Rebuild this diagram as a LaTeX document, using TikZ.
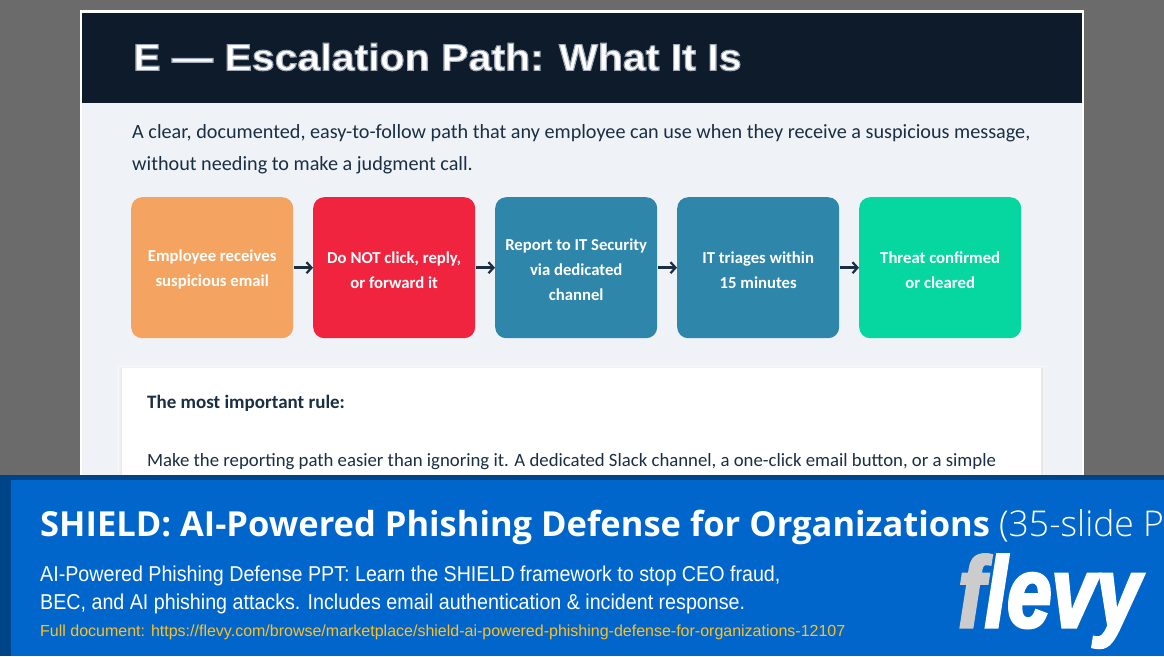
\documentclass[tikz,border=0pt]{standalone}
\usepackage{fontspec}
\setmainfont{Carlito}
\newfontfamily\arialf{Liberation Sans}
\newfontfamily\arialn[FakeStretch=0.915]{Liberation Sans}
\newfontfamily\openf{Open Sans}
\newfontfamily\openlight{Open Sans Light}
\newfontfamily\titlef[FakeStretch=1.095,FakeBold=3]{Liberation Sans}
\newfontfamily\logof[FakeStretch=0.8,FakeBold=3]{Liberation Sans}
\newcommand{\liftline}{\rule{0pt}{16pt}}
\usetikzlibrary{arrows.meta}
\definecolor{bggray}{HTML}{6B6B6B}
\definecolor{slidebg}{HTML}{EFF3F8}
\definecolor{navy}{HTML}{0D1B2A}
\definecolor{inkblue}{HTML}{1A2E44}
\definecolor{orangebox}{HTML}{F4A460}
\definecolor{redbox}{HTML}{F1243F}
\definecolor{bluebox}{HTML}{2E86AB}
\definecolor{greenbox}{HTML}{06D6A0}
\definecolor{bannerdark}{HTML}{004488}
\definecolor{bannermain}{HTML}{0066CC}
\definecolor{linkgold}{HTML}{FFC020}
\definecolor{flevygray}{HTML}{CCCCCC}
\tikzset{
  x=1pt,y=-1pt,
  flowbox/.style={rounded corners=11pt,minimum width=162pt,minimum height=141pt,inner sep=0pt,anchor=north west,text=white,align=center,font=\fontsize{16.7}{25}\selectfont\bfseries},
  flowarrow/.style={draw=inkblue,line width=2.8pt,-{Straight Barb[length=5pt,width=11pt,line width=2.2pt]},shorten <=1pt},
  bodytext/.style={anchor=west,inner sep=0pt,text=inkblue,font=\fontsize{20.2}{20}\selectfont},
  cardtext/.style={anchor=west,inner sep=0pt,text=inkblue,font=\fontsize{18.75}{19}\selectfont},
  bannertext/.style={anchor=west,inner sep=0pt,text=white,font=\arialn\fontsize{21.5}{22}\selectfont},
}
\begin{document}
\begin{tikzpicture}
\useasboundingbox (0,0) rectangle (1164,656);
\clip (0,0) rectangle (1164,656);
\fill[bggray] (0,0) rectangle (1164,656);
\fill[white] (80,10) rectangle (1084,480);
\fill[slidebg] (82,13) rectangle (1082,480);
\fill[navy] (82,13) rectangle (1082,103);
\node[anchor=west,inner sep=0pt,text=white,font=\titlef\bfseries\fontsize{37.5}{38}\selectfont] (title) at (133,57)
  {\special{pdf:bcolor [1 1 1] [0.62 0.66 0.72]}E — Escalation Path: What It Is\special{pdf:ecolor}};
\node[bodytext] (intro1) at (132,133) {A clear, documented, easy-to-follow path that any employee can use when they receive a suspicious message,};
\node[bodytext] (intro2) at (132,165) {without needing to make a judgment call.};
\node[flowbox,fill=orangebox] (s1) at (131,197) {\liftline Employee receives\\suspicious email};
\node[flowbox,fill=redbox] (s2) at (313,197) {\liftline Do NOT click, reply,\\or forward it};
\node[flowbox,fill=bluebox] (s3) at (495,197) {\liftline Report to IT Security\\via dedicated\\channel};
\node[flowbox,fill=bluebox] (s4) at (677,197) {\liftline IT triages within\\15 minutes};
\node[flowbox,fill=greenbox] (s5) at (859,197) {\liftline Threat confirmed\\or cleared};
\draw[flowarrow] (s1) -- (s2);
\draw[flowarrow] (s2) -- (s3);
\draw[flowarrow] (s3) -- (s4);
\draw[flowarrow] (s4) -- (s5);
\fill[black!3] (118,366) rectangle (1045,480);
\fill[black!6] (119,367) rectangle (1044,480);
\fill[black!9] (120.5,367.5) rectangle (1042.5,480);
\fill[white] (122,368) rectangle (1041,480);
\node[cardtext,font=\fontsize{19}{19}\selectfont\bfseries] (rule) at (147,403) {The most important rule:};
\node[cardtext] (make) at (147,462) {Make the reporting path easier than ignoring it. A dedicated Slack channel, a one-click email button, or a simple};
\fill[bannerdark] (0,475) rectangle (1164,656);
\fill[bannermain] (11,480) rectangle (1164,656);
\node[anchor=west,inner sep=0pt,text=white,font=\openf\fontsize{34.5}{35}\selectfont] (head) at (40,527)
  {\textbf{SHIELD: AI-Powered Phishing Defense for Organizations} {\openlight\fontsize{35.5}{36}\selectfont(35-slide P}};
\node[bannertext] (sub1) at (40,576) {AI-Powered Phishing Defense PPT: Learn the SHIELD framework to stop CEO fraud,};
\node[bannertext] (sub2) at (40,604) {BEC, and AI phishing attacks. Includes email authentication \& incident response.};
\node[anchor=west,inner sep=0pt,text=linkgold,font=\arialf\fontsize{16}{16}\selectfont] (link) at (40,632) {Full document: https://flevy.com/browse/marketplace/shield-ai-powered-phishing-defense-for-organizations-12107};
\node[anchor=base west,inner sep=0pt,font=\logof\bfseries\itshape\fontsize{100}{100}\selectfont] (logo) at (958,627)
  {\textcolor{flevygray}{f}\textcolor{white}{levy}};
\end{tikzpicture}
\end{document}
